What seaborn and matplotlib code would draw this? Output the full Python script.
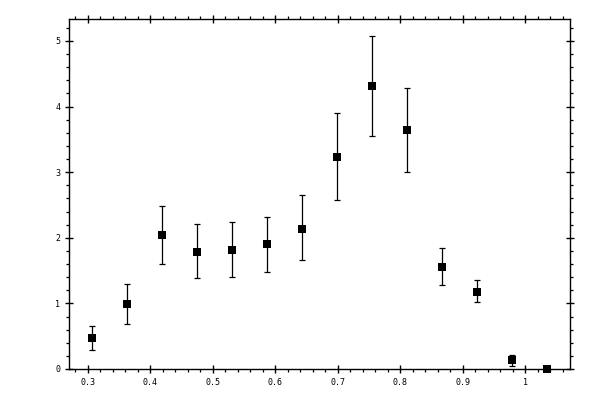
import numpy as np
import pandas as pd
import matplotlib
matplotlib.use("Agg")
import matplotlib.pyplot as plt
import matplotlib.ticker as mticker
import seaborn as sns

# values
x_vals = [0.307, 0.363, 0.419, 0.475, 0.531, 0.587, 0.643,
          0.698, 0.754, 0.810, 0.866, 0.922, 0.978, 1.034]
y_vals = [0.47, 0.99, 2.04, 1.79, 1.82, 1.90, 2.14,
          3.23, 4.31, 3.65, 1.55, 1.18, 0.13, 0.0]
y_upper = [0.65, 1.29, 2.48, 2.21, 2.24, 2.32, 2.65,
           3.90, 5.08, 4.28, 1.84, 1.35, 0.21, 0.0]
y_lower = [0.29, 0.68, 1.60, 1.38, 1.40, 1.48, 1.66,
           2.57, 3.55, 3.01, 1.28, 1.02, 0.05, 0.0]

df = pd.DataFrame({"x": x_vals, "y": y_vals, "hi": y_upper, "lo": y_lower})

sns.set_style("ticks")
plt.rcParams["font.family"] = ["DejaVu Sans Mono", "DejaVu Sans"]

fig = plt.figure(figsize=(6, 4), dpi=100)
ax = fig.add_axes([0.115, 0.0775, 0.835, 0.875])

ax.errorbar(df["x"], df["y"], yerr=[df["y"] - df["lo"], df["hi"] - df["y"]],
            fmt="none", ecolor="black", elinewidth=0.9, capsize=2.2, capthick=0.9,
            zorder=2)
sns.scatterplot(data=df, x="x", y="y", marker="s", s=36, color="black",
                linewidth=0, ax=ax, zorder=3, clip_on=False)

ax.set_xlim(0.2696, 1.0716)
ax.set_ylim(0, 5.335)
ax.set_xlabel("")
ax.set_ylabel("")

ax.xaxis.set_major_locator(mticker.MultipleLocator(0.1))
ax.xaxis.set_minor_locator(mticker.MultipleLocator(0.02))
ax.yaxis.set_major_locator(mticker.MultipleLocator(1))
ax.yaxis.set_minor_locator(mticker.MultipleLocator(0.2))
ax.xaxis.set_major_formatter(mticker.FormatStrFormatter("%g"))
ax.yaxis.set_major_formatter(mticker.FormatStrFormatter("%g"))

for side in ["top", "right", "bottom", "left"]:
    ax.spines[side].set_visible(True)
    ax.spines[side].set_linewidth(1.0)
    ax.spines[side].set_color("black")

ax.tick_params(which="both", top=True, right=True, colors="black")
ax.tick_params(which="major", direction="inout", length=5.8, width=1.0,
               labelsize=6, pad=3.5)
ax.tick_params(which="minor", direction="out", length=2.2, width=0.9)

fig.savefig("out.png", dpi=100)
